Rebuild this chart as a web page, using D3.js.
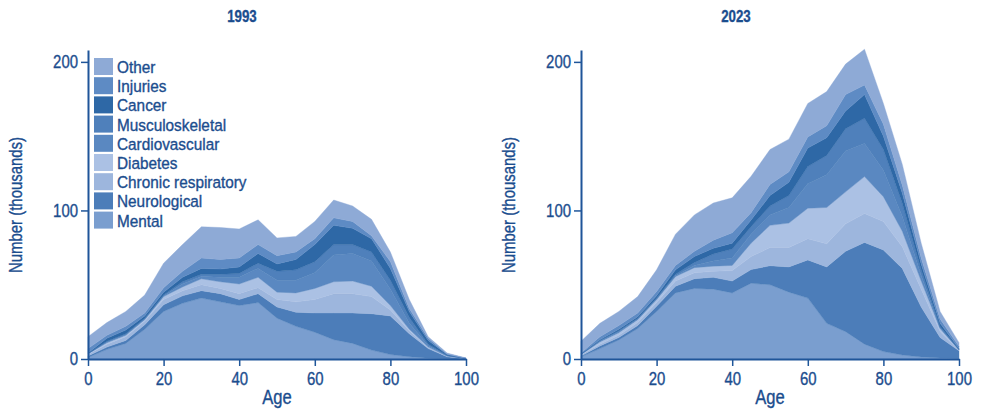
<!DOCTYPE html>
<html>
<head>
<meta charset="utf-8">
<script src="https://cdn.jsdelivr.net/npm/d3@7"></script>
<style>
  html, body { margin: 0; padding: 0; background: #ffffff; }
  svg { display: block; }
  text { font-family: "Liberation Sans", Arial, sans-serif; fill: #1b4d8e; stroke: #1b4d8e; stroke-width: 0.35px; }
</style>
</head>
<body>
<svg id="chart" width="981" height="411"></svg>
<script>
// ---- Data (thousands of people, by age) ----
const ages = [0,5,10,15,20,25,30,35,40,45,50,55,60,65,70,75,80,85,90,95,100];
const causes = ["Mental","Neurological","Chronic respiratory","Diabetes","Cardiovascular","Musculoskeletal","Cancer","Injuries","Other"];
const legendOrder = ["Other","Injuries","Cancer","Musculoskeletal","Cardiovascular","Diabetes","Chronic respiratory","Neurological","Mental"];
const panelTitles = ["1993","2023"];
const yTicks = [0,100,200];
const xTicks = [0,20,40,60,80,100];

// 1993
const mental1993        = [1,6.5,10.5,20,32,37.5,41,38.5,36,38,27.5,22,18,13,10.5,6,3,1.5,0.5,0.2,0];
const neurological1993  = [1,1.5,2,3,4.5,5,5,5.5,4,6,7.5,9.5,13,18,20.5,24.5,26,15.5,6.5,1.3,0.2];
const respiratory1993   = [1,2,2.5,2.5,3.5,3.5,4,3.5,4,4,5,7,9,13,13,11.5,4,2,0.5,0.3,0.05];
const diabetes1993      = [0.5,1,1,1,2,2.5,4,4.5,6.5,7,5,6,7.5,8,8.5,7,3,1,0.5,0.2,0.05];
const cardiovascular1993= [0.1,0.5,0.5,0.5,0.5,2,1.5,3,4.5,6,8,8.5,10.5,18,18.5,17,11,4,1,0.2,0];
const musculo1993       = [0.1,0.5,0.5,0.5,0.5,1.5,1.5,2,2.5,3.5,6,7,7.5,7,6,6,6,4,1,0.3,0.05];
const cancer1993        = [0.3,2,2.5,1.5,2,3,4,3.5,4.5,6.5,5,7,11.5,13,11,9,8,4,2.5,0.5,0.05];
const injuries1993      = [3,2,2.5,2,3,4,7,6.5,6,6,5.5,5,4,5,4.6,2,4.6,2,1.5,0.4,0.1];
const other1993         = [8,8.5,10,12,16.5,18,21,21.5,19.5,16.7,12,10.5,11.6,12,10.4,11,6.4,6,1,0.6,0.2];

// 2023
const mental2023        = [1.5,7,12.8,20.5,32,44.5,47.5,47,44.5,51,50,45,41,24,18.4,10,5,2.7,1.3,0.7,0.4];
const neurological2023  = [0.5,1.8,1.7,2,3.5,4.5,6.5,8,8,9.2,12.8,17,25.7,38,54.1,68.5,68.4,58.3,33.7,13.8,5.1];
const respiratory2023   = [0.7,1.2,1.5,2,2.5,3.5,4,4,7,8.8,12.2,13,14.3,15.5,18.5,19.5,19.1,14.5,12,4,0.3];
const diabetes2023      = [0.4,1.5,1.7,2,2,3,3.5,3.5,3.5,9,15,16.5,20.5,24.5,21.5,24.8,16.8,10.5,5.5,2,0.2];
const cardiovascular2023= [0.1,0.5,0.8,0.5,0.5,0.5,1.5,3.5,5,6,7,10.5,16.5,22,27.5,22.2,17.7,10,3.5,0.5,0.3];
const musculo2023       = [0.1,0.5,0.5,0.5,0.5,1,2,4.7,6,5,6,8,11.5,13,15,17,14,8.8,4,0.8,0.2];
const cancer2023        = [0.2,0.5,1,1,1.5,3,4,3.8,4,4.6,7,9,12.5,12,12,16,9,6.8,4,2.2,0.5];
const injuries2023      = [0.5,2,2.5,2.5,3,3,3.5,5.5,7,4.9,7.5,7,7.5,8,11,6.5,8,5.4,4,3,1.5];
const other2023         = [8,9,9.5,11,14.5,21,24.5,25,23.5,24.5,23.5,22,22.5,23,20.5,24,14,14,10,5,2.5];

const colors = {
  "Mental": "#7a9ecf",
  "Neurological": "#4c7db9",
  "Chronic respiratory": "#9db6dd",
  "Diabetes": "#abc1e4",
  "Cardiovascular": "#5a88c1",
  "Musculoskeletal": "#4f80bb",
  "Cancer": "#2e68a6",
  "Injuries": "#5e8bc4",
  "Other": "#8eaad6"
};
const axisColor = "#1f5599";
const K = 0.83;   // horizontal condensing to mimic a narrow face
const KL = 0.93;  // legend condensing

function buildRows(series) {
  return ages.map((a, i) => {
    const r = { age: a };
    causes.forEach((c, k) => { r[c] = series[k][i]; });
    return r;
  });
}
const rows1993 = buildRows([mental1993, neurological1993, respiratory1993, diabetes1993, cardiovascular1993, musculo1993, cancer1993, injuries1993, other1993]);
const rows2023 = buildRows([mental2023, neurological2023, respiratory2023, diabetes2023, cardiovascular2023, musculo2023, cancer2023, injuries2023, other2023]);

const svg = d3.select("#chart");
const panels = [
  { rows: rows1993, title: panelTitles[0], x0: 88, x1: 466, titleX: 242, ylabX: 21.5, legend: true },
  { rows: rows2023, title: panelTitles[1], x0: 581, x1: 959, titleX: 736, ylabX: 515, legend: false }
];
const yBottom = 359, yTop = 50;

function ctext(g, x, y, str, size, anchor, weight, k) {
  return g.append("text")
    .attr("transform", `translate(${x},${y}) scale(${k || K},1)`)
    .attr("text-anchor", anchor || "start")
    .style("font-size", size + "px")
    .style("font-weight", weight || "normal")
    .text(str);
}

panels.forEach(p => {
  const x = d3.scaleLinear().domain([0, 100]).range([p.x0, p.x1]);
  const y = d3.scaleLinear().domain([0, 208]).range([yBottom, yTop]);
  const layers = d3.stack().keys(causes)(p.rows);
  const area = d3.area()
    .x(d => x(d.data.age))
    .y0(d => y(d[0]))
    .y1(d => y(d[1]))
    .curve(d3.curveLinear);

  const g = svg.append("g");
  g.selectAll("path.layer").data(layers).join("path")
    .attr("class", "layer")
    .attr("d", area)
    .attr("fill", d => colors[d.key])
    .attr("stroke", d => colors[d.key])
    .attr("stroke-width", 0.4);

  const yAxis = d3.axisLeft(y).tickValues(yTicks).tickSize(7).tickPadding(3).tickSizeOuter(0);
  const ya = g.append("g").attr("transform", `translate(${p.x0},0)`).call(yAxis);
  ya.selectAll(".tick text").attr("x", -10 / K).attr("transform", `scale(${K},1)`);
  const xAxis = d3.axisBottom(x).tickValues(xTicks).tickSize(7).tickPadding(6).tickSizeOuter(0);
  const xa = g.append("g").attr("transform", `translate(0,${yBottom})`).call(xAxis);
  xa.selectAll(".tick text").attr("transform", `scale(${K},1)`);

  [ya, xa].forEach(a => {
    a.select(".domain").attr("stroke", axisColor).attr("stroke-width", 2);
    a.selectAll(".tick line").attr("stroke", axisColor).attr("stroke-width", 1.5);
    a.selectAll(".tick text").attr("fill", "#1b4d8e")
      .style("font-family", '"Liberation Sans", Arial, sans-serif')
      .style("font-size", "18px");
  });

  ctext(g, p.titleX, 22, p.title, 16, "middle", "bold");
  ctext(g, (p.x0 + p.x1) / 2, 404, "Age", 20, "middle");
  g.append("text")
    .attr("transform", `translate(${p.ylabX},205) rotate(-90) scale(${K},1)`)
    .attr("text-anchor", "middle").style("font-size", "18px").text("Number (thousands)");

  if (p.legend) {
    const lg = g.append("g").attr("transform", "translate(94,58)");
    legendOrder.forEach((name, i) => {
      const row = lg.append("g").attr("transform", `translate(0,${i * 19.2})`);
      row.append("rect").attr("width", 19).attr("height", 17).attr("fill", colors[name]);
      ctext(row, 23, 15, name, 16.5, "start", "normal", KL);
    });
  }
});
</script>
</body>
</html>
